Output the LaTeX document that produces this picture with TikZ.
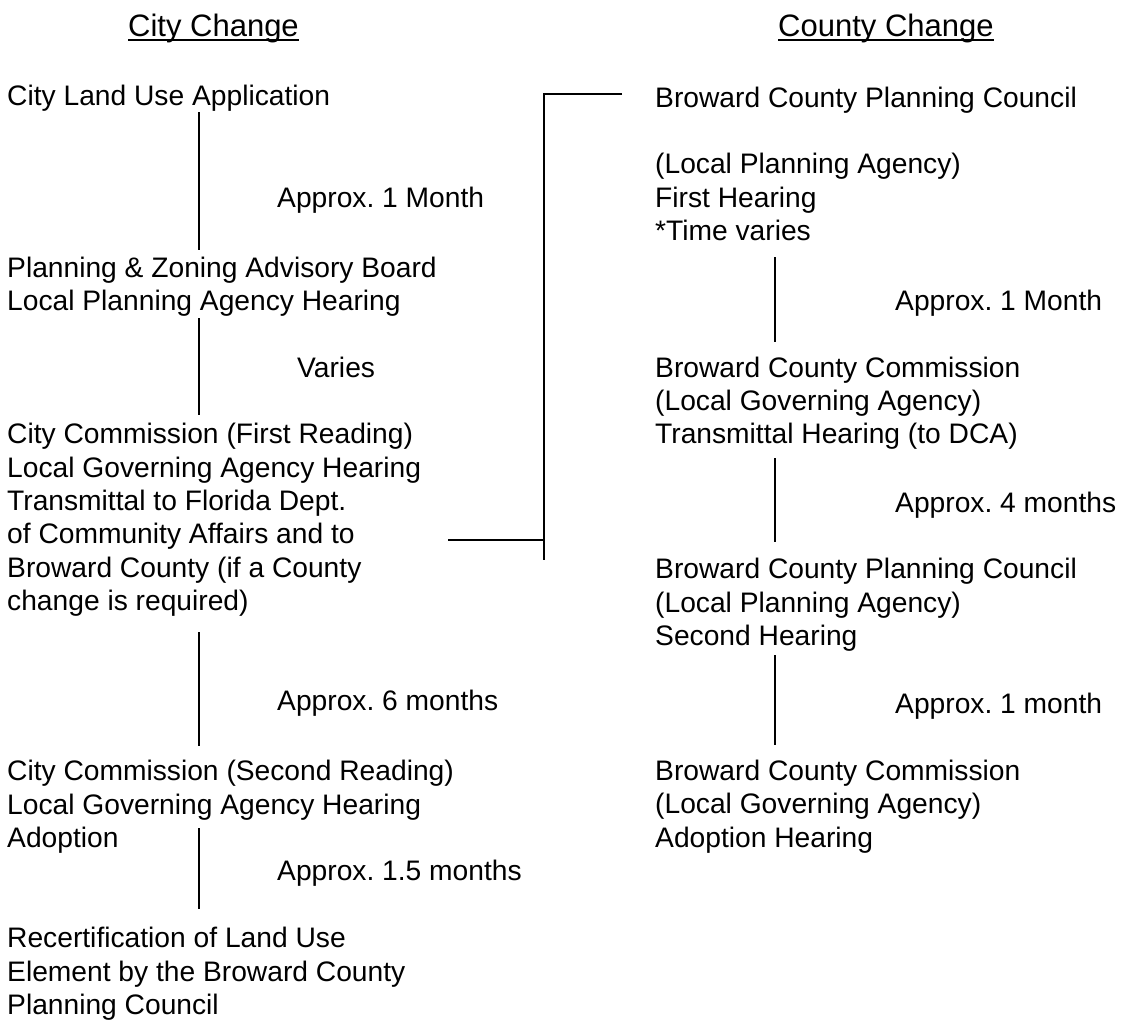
\documentclass[tikz,border=0pt]{standalone}
\usepackage{fontspec}
\setmainfont{Liberation Sans}
\frenchspacing
\begin{document}
\frenchspacing
\begin{tikzpicture}[x=1pt,y=-1pt,
  txt/.style={anchor=base west, inner sep=0pt, font=\fontsize{28.2}{33.4}\selectfont},
  head/.style={anchor=base west, inner sep=0pt, font=\fontsize{31}{36}\selectfont},
  conn/.style={line width=2pt, line cap=butt}]
\useasboundingbox (0,0) rectangle (1121,1020);
% headers
\node[head] (hcity) at (128,36) {City Change};
\draw[conn] ([yshift=-4pt]hcity.base west) -- ([yshift=-4pt]hcity.base east);
\node[head] (hcounty) at (778,36) {County Change};
\draw[conn] ([yshift=-4pt]hcounty.base west) -- ([yshift=-4pt]hcounty.base east);
% left column
\node[txt] (a1) at (7,105) {City Land Use Application};
\node[txt] (l1) at (277,207) {Approx. 1 Month};
\node[txt] (b1) at (7,277) {Planning \& Zoning Advisory Board};
\node[txt] (b2) at (7,310) {Local Planning Agency Hearing};
\node[txt] (l2) at (297,377) {Varies};
\node[txt] (c1) at (7,443) {City Commission (First Reading)};
\node[txt] (c2) at (7,477) {Local Governing Agency Hearing};
\node[txt] (c3) at (7,510) {Transmittal to Florida Dept.};
\node[txt] (c4) at (7,543) {of Community Affairs and to};
\node[txt] (c5) at (7,577) {Broward County (if a County};
\node[txt] (c6) at (7,610) {change is required)};
\node[txt] (l3) at (277,710) {Approx. 6 months};
\node[txt] (d1) at (7,780) {City Commission (Second Reading)};
\node[txt] (d2) at (7,814) {Local Governing Agency Hearing};
\node[txt] (d3) at (7,847) {Adoption};
\node[txt] (l4) at (277,880) {Approx. 1.5 months};
\node[txt] (e1) at (7,947) {Recertification of Land Use};
\node[txt] (e2) at (7,981) {Element by the Broward County};
\node[txt] (e3) at (7,1014) {Planning Council};
% right column
\node[txt] (f1) at (655,107) {Broward County Planning Council};
\node[txt] (f2) at (655,173) {(Local Planning Agency)};
\node[txt] (f3) at (655,207) {First Hearing};
\node[txt] (f4) at (655,240) {*Time varies};
\node[txt] (r1) at (895,310) {Approx. 1 Month};
\node[txt] (g1) at (655,377) {Broward County Commission};
\node[txt] (g2) at (655,410) {(Local Governing Agency)};
\node[txt] (g3) at (655,443) {Transmittal Hearing (to DCA)};
\node[txt] (r2) at (895,512) {Approx. 4 months};
\node[txt] (h1) at (655,578) {Broward County Planning Council};
\node[txt] (h2) at (655,612) {(Local Planning Agency)};
\node[txt] (h3) at (655,645) {Second Hearing};
\node[txt] (r3) at (895,713) {Approx. 1 month};
\node[txt] (i1) at (655,780) {Broward County Commission};
\node[txt] (i2) at (655,813) {(Local Governing Agency)};
\node[txt] (i3) at (655,847) {Adoption Hearing};
% connector end points
\coordinate (p1t) at (199,112); \coordinate (p1b) at (199,250);
\coordinate (p2t) at (199,318); \coordinate (p2b) at (199,415);
\coordinate (p3t) at (199,632); \coordinate (p3b) at (199,746);
\coordinate (p4t) at (199,828); \coordinate (p4b) at (199,909);
\coordinate (q1t) at (775,257); \coordinate (q1b) at (775,342);
\coordinate (q2t) at (775,458); \coordinate (q2b) at (775,542);
\coordinate (q3t) at (775,655); \coordinate (q3b) at (775,745);
\coordinate (kL) at (448,540); \coordinate (kM) at (544,540);
\coordinate (kT) at (544,94); \coordinate (kR) at (622,94); \coordinate (kB) at (544,560);
% connectors
\draw[conn] (p1t) -- (p1b);
\draw[conn] (p2t) -- (p2b);
\draw[conn] (p3t) -- (p3b);
\draw[conn] (p4t) -- (p4b);
\draw[conn] (q1t) -- (q1b);
\draw[conn] (q2t) -- (q2b);
\draw[conn] (q3t) -- (q3b);
\draw[conn] (kL) -- (kM);
\draw[conn] (kR) -- (kT) -- (kB);
\end{tikzpicture}
\end{document}
